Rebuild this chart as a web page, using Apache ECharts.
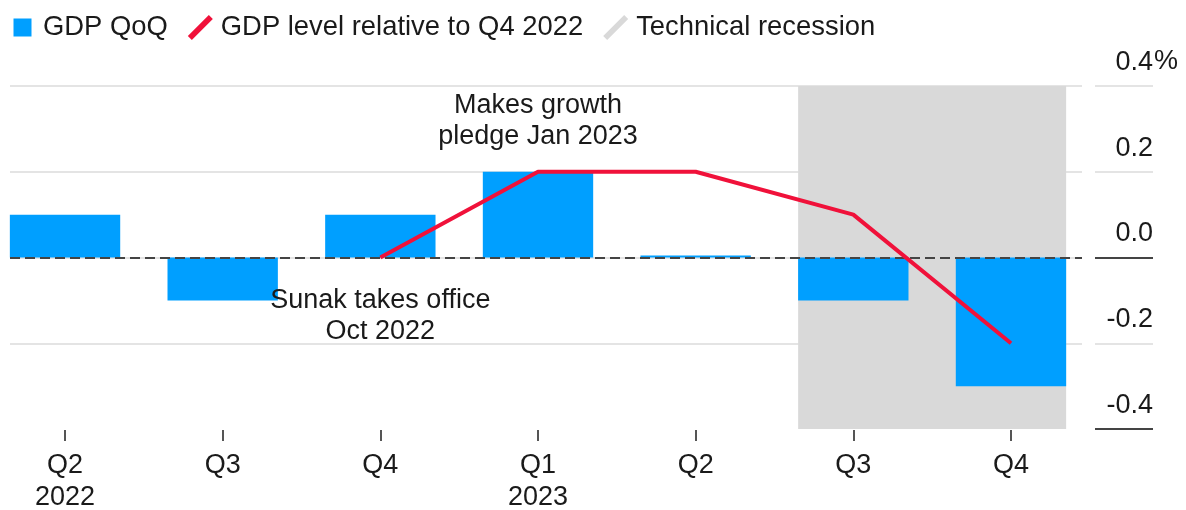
<!DOCTYPE html>
<html><head><meta charset="utf-8">
<script src="https://cdn.jsdelivr.net/npm/echarts@6/dist/echarts.min.js"></script>
<style>html,body{margin:0;padding:0;background:#fff}#c{width:1186px;height:510px}</style>
</head><body><div id="c"></div>
<script>
const categories = ['Q2 2022','Q3 2022','Q4 2022','Q1 2023','Q2 2023','Q3 2023','Q4 2023'];
const tickLabels = ['Q2\n2022','Q3','Q4','Q1\n2023','Q2','Q3','Q4'];
const gdpQoQ = [0.1, -0.1, 0.1, 0.2, 0.0, -0.1, -0.3];
const gdpLevel = [null, null, 0, 0.2, 0.2, 0.1, -0.2];
const yTicks = [-0.4, -0.2, 0, 0.2, 0.4];
const recession = ['Q3 2023', 'Q4 2023'];
const annotationText = ['Makes growth\npledge Jan 2023', 'Sunak takes office\nOct 2022'];
const annotationAt = ['Q1 2023', 'Q4 2022'];
const annotationY = [0.318, -0.137];

const FONT = 'Liberation Sans, Arial, sans-serif';
const TXT = '#1a1a1a';
const BAR = 0.7;
const yMin = yTicks[0], yMax = yTicks[yTicks.length - 1], yStep = yTicks[1] - yTicks[0];
const squareIcon = 'path://M0,0L0.01,0L0,0.01Z M3.5,3.5H21.5V21.5H3.5Z M25,25L24.99,25L25,24.99Z';
const slashIcon = 'path://M0,21L21,0L25,4L4,25Z';
const recStart = categories.indexOf(recession[0]) - BAR / 2;
const recEnd = categories.indexOf(recession[1]) + BAR / 2;

const chart = echarts.init(document.getElementById('c'), null, {renderer: 'canvas'});
const yBase = {type: 'value', min: yMin, max: yMax, interval: yStep};
chart.setOption({
  animation: false,
  textStyle: {fontFamily: FONT},
  legend: {
    left: 5, top: 9, itemWidth: 25, itemHeight: 25, itemGap: 20, selectedMode: false,
    textStyle: {fontSize: 27.4, color: TXT, fontFamily: FONT, padding: [0, 0, 0, 3]},
    data: [
      {name: 'GDP QoQ', icon: squareIcon},
      {name: 'GDP level relative to Q4 2022', icon: slashIcon},
      {name: 'Technical recession', icon: slashIcon}
    ]
  },
  grid: [
    {left: -13.8, right: 96.2, top: 86, bottom: 81, outerBoundsMode: 'none', containLabel: false},
    {left: 10, right: 104, top: 86, bottom: 81, outerBoundsMode: 'none', containLabel: false},
    {left: 1095, right: 33, top: 86, bottom: 81, outerBoundsMode: 'none', containLabel: false}
  ],
  xAxis: [
    {type: 'category', gridIndex: 0, data: categories, offset: 1,
     axisLine: {show: true, onZero: false, lineStyle: {color: 'rgba(0,0,0,0)', width: 0}},
     axisTick: {show: true, alignWithLabel: true, length: 11, lineStyle: {color: '#555', width: 2}},
     axisLabel: {formatter: (v, i) => tickLabels[i], fontSize: 27, lineHeight: 32, margin: 20, color: TXT, fontFamily: FONT}},
    {type: 'value', gridIndex: 0, min: -0.5, max: categories.length - 0.5, show: false},
    {type: 'value', gridIndex: 1, min: 0, max: 1, show: false},
    {type: 'value', gridIndex: 2, min: 0, max: 1, show: false}
  ],
  yAxis: [
    Object.assign({gridIndex: 0, show: false}, yBase),
    Object.assign({gridIndex: 1, axisLabel: {show: false}, axisLine: {show: false}, axisTick: {show: false},
      splitLine: {show: true, lineStyle: {width: 2, color: ['rgba(0,0,0,0)', '#e4e4e4', '#e4e4e4', '#e4e4e4', '#e4e4e4']}}}, yBase),
    Object.assign({gridIndex: 2, position: 'right', axisLine: {show: false}, axisTick: {show: false},
      splitLine: {show: true, lineStyle: {width: 2, color: ['#444', '#e4e4e4', '#444', '#e4e4e4', '#e4e4e4']}},
      axisLabel: {inside: true, margin: 0, fontSize: 27, color: TXT, fontFamily: FONT, lineHeight: 47,
        verticalAlign: 'bottom', formatter: v => v.toFixed(1)}}, yBase)
  ],
  graphic: [
    {type: 'text', left: 1154, top: 48, style: {text: '%', fontSize: 27, fontFamily: FONT, fill: TXT}}
  ],
  series: [
    {name: 'Technical recession', type: 'line', xAxisIndex: 1, yAxisIndex: 0, data: [], z: 1,
     color: '#d9d9d9', itemStyle: {color: '#d9d9d9'},
     markArea: {silent: true, itemStyle: {color: '#d9d9d9'},
       data: [[{xAxis: recStart}, {xAxis: recEnd}]]}},
    {name: 'GDP QoQ', type: 'bar', xAxisIndex: 0, yAxisIndex: 0, data: gdpQoQ, barWidth: (BAR * 100) + '%',
     barMinHeight: 2, color: '#009fff', itemStyle: {color: '#009fff'}, z: 3,
     markPoint: {silent: true, symbol: 'circle', symbolSize: 1, itemStyle: {color: 'rgba(0,0,0,0)'},
       label: {show: true, position: 'inside', fontSize: 27, lineHeight: 31, color: TXT, fontFamily: FONT, align: 'center'},
       data: annotationText.map((t, i) => ({coord: [categories.indexOf(annotationAt[i]), annotationY[i]], value: t,
         label: {formatter: t}}))}},
    {name: 'zero', type: 'line', xAxisIndex: 2, yAxisIndex: 1, data: [], z: 4,
     markLine: {silent: true, symbol: 'none', label: {show: false},
       lineStyle: {type: [10, 5], color: '#444', width: 2}, data: [{yAxis: 0}]}},
    {name: 'GDP level relative to Q4 2022', type: 'line', xAxisIndex: 0, yAxisIndex: 0, data: gdpLevel,
     color: '#f0113a', itemStyle: {color: '#f0113a'}, lineStyle: {color: '#f0113a', width: 4},
     symbol: 'none', showSymbol: false, z: 5}
  ]
});
</script></body></html>
